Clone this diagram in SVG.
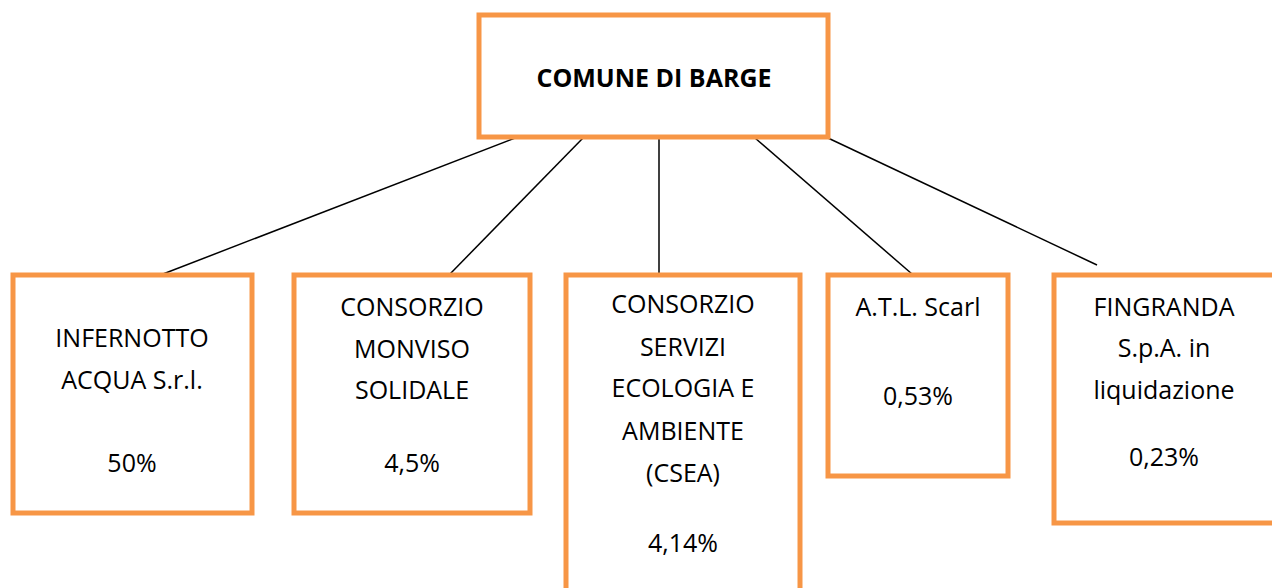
<svg xmlns="http://www.w3.org/2000/svg" width="1272" height="588" viewBox="0 0 1272 588">
<style>
.box{fill:#fff;stroke:#F79646;stroke-width:5}
.t{font-family:"Open Sans","Liberation Sans",sans-serif;font-size:25px;fill:#000;text-anchor:middle}
.b{font-weight:bold}
.c{stroke:#000;stroke-width:1.5;fill:none}
</style>
<rect width="1272" height="588" fill="#fff"/>
<g id="connectors">
<line class="c" x1="515" y1="138" x2="163" y2="274"/>
<line class="c" x1="583" y1="138" x2="450" y2="274"/>
<line class="c" x1="659" y1="138" x2="659" y2="274"/>
<line class="c" x1="755" y1="138" x2="912" y2="274"/>
<line class="c" x1="828" y1="138" x2="1097" y2="265"/>
</g>
<g id="comune">
<rect class="box" x="479" y="15" width="349" height="122"/>
<text class="t b" x="654" y="87">COMUNE DI BARGE</text>
</g>
<g id="infernotto">
<rect class="box" x="13" y="275" width="239" height="238"/>
<text class="t" x="132" y="347">INFERNOTTO</text>
<text class="t" x="132" y="389">ACQUA S.r.l.</text>
<text class="t" x="132" y="472">50%</text>
</g>
<g id="monviso">
<rect class="box" x="294" y="275" width="236" height="238"/>
<text class="t" x="412" y="316">CONSORZIO</text>
<text class="t" x="412" y="358">MONVISO</text>
<text class="t" x="412" y="399">SOLIDALE</text>
<text class="t" x="412" y="472">4,5%</text>
</g>
<g id="csea">
<rect class="box" x="566" y="275" width="234" height="330"/>
<text class="t" x="683" y="313">CONSORZIO</text>
<text class="t" x="683" y="356">SERVIZI</text>
<text class="t" x="683" y="397">ECOLOGIA E</text>
<text class="t" x="683" y="440">AMBIENTE</text>
<text class="t" x="683" y="482">(CSEA)</text>
<text class="t" x="683" y="552">4,14%</text>
</g>
<g id="atl">
<rect class="box" x="828" y="275" width="180" height="201"/>
<text class="t" x="918" y="316">A.T.L. Scarl</text>
<text class="t" x="918" y="405">0,53%</text>
</g>
<g id="fingranda">
<rect class="box" x="1054" y="275" width="240" height="248"/>
<text class="t" x="1164" y="316">FINGRANDA</text>
<text class="t" x="1164" y="357">S.p.A. in</text>
<text class="t" x="1164" y="399">liquidazione</text>
<text class="t" x="1164" y="466">0,23%</text>
</g>
</svg>
